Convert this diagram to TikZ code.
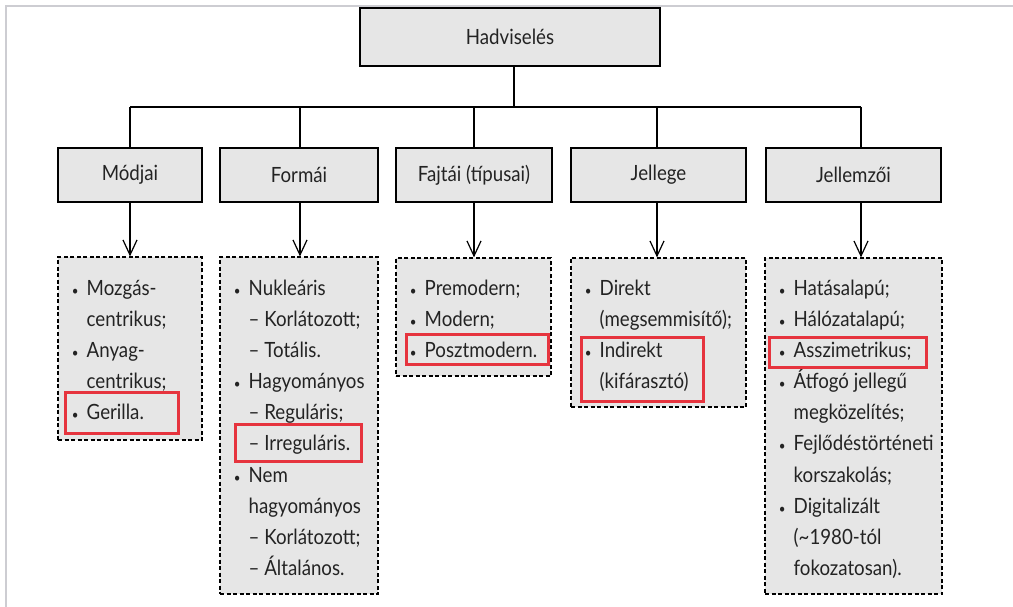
\documentclass[tikz,border=0pt]{standalone}
\usepackage{fontspec}
\setmainfont{Lato}[FakeStretch=0.89]
\usetikzlibrary{arrows.meta}
\definecolor{boxfill}{RGB}{230,230,230}
\definecolor{txt}{RGB}{35,35,35}
\definecolor{hlred}{RGB}{230,52,62}
\definecolor{framegray}{RGB}{205,205,210}
\newcommand\bu{\makebox[0pt][c]{\fontsize{13}{13}\selectfont\textbullet}\hspace*{11.5pt}}
\newcommand\ind{\hspace*{11.5pt}}
\begin{document}
\begin{tikzpicture}[x=1pt,y=-1pt,
  hdr/.style={draw=black, line width=1.3pt, fill=boxfill, inner sep=0pt, text=txt, font=\fontsize{21}{25}\selectfont},
  lst/.style={draw=black, line width=1.2pt, dash pattern=on 4pt off 2.5pt, fill=boxfill, inner sep=0pt},
  ltxt/.style={anchor=base west, inner sep=0pt, text=txt, font=\fontsize{21}{31.2}\selectfont},
  bus/.style={line width=1.4pt},
  arr/.style={line width=1.4pt, -{Straight Barb[length=15pt,width=14pt,line width=1.2pt]}},
  hl/.style={draw=hlred, line width=3pt, inner sep=0pt},
  frm/.style={draw=framegray, line width=2pt}]
\useasboundingbox (0,0) rectangle (1013,607);
\draw[frm] (6,607) -- (6,6) -- (1013,6);

% top levels
\node[hdr, minimum width=300, minimum height=58] (root) at (510,37) {Hadviselés};
\node[hdr, minimum width=144, minimum height=54] (mod) at (130,175) {Módjai};
\node[hdr, minimum width=158, minimum height=54] (for) at (299,175) {Formái};
\node[hdr, minimum width=156, minimum height=54] (faj) at (474,175) {Fajtái (típusai)};
\node[hdr, minimum width=175, minimum height=54] (jel) at (658.5,175) {Jellege};
\node[hdr, minimum width=175, minimum height=54] (jem) at (853.5,175) {Jellemzői};

% list boxes
\node[lst, minimum width=144, minimum height=183] (modl) at (130,348.5) {};
\node[lst, minimum width=158, minimum height=337] (forl) at (299,425.5) {};
\node[lst, minimum width=155, minimum height=118] (fajl) at (473.5,317) {};
\node[lst, minimum width=175, minimum height=149] (jell) at (658.5,332.5) {};
\node[lst, minimum width=177, minimum height=336] (jeml) at (853.5,426) {};

% bus
\coordinate (b0) at (514,107);
\coordinate (b1) at (130,107);
\coordinate (b2) at (300,107);
\coordinate (b3) at (474,107);
\coordinate (b4) at (657,107);
\coordinate (b5) at (861,107);
\draw[bus] (root.south -| b0) -- (b0);
\draw[bus] (b1) -- (b5);
\draw[bus] (b1) -- (mod.north -| b1);
\draw[bus] (b2) -- (for.north -| b2);
\draw[bus] (b3) -- (faj.north -| b3);
\draw[bus] (b4) -- (jel.north -| b4);
\draw[bus] (b5) -- (jem.north -| b5);

% arrows
\draw[arr] (mod.south -| b1) -- (modl.north -| b1);
\draw[arr] (for.south -| b2) -- (forl.north -| b2);
\draw[arr] (faj.south -| b3) -- (fajl.north -| b3);
\draw[arr] (jel.south -| b4) -- (jell.north -| b4);
\draw[arr] (jem.south -| b5) -- (jeml.north -| b5);

% texts
\node[ltxt] (t1) at (75,295) {\begin{tabular}[t]{@{}l@{}}\bu Mozgás-\\ \ind centrikus;\\ \bu Anyag-\\ \ind centrikus;\\ \bu Gerilla.\end{tabular}};
\node[ltxt] (t2) at (237,295) {\begin{tabular}[t]{@{}l@{}}\bu Nukleáris\\ \ind – Korlátozott;\\ \ind – Totális.\\ \bu Hagyományos\\ \ind – Reguláris;\\ \ind – Irreguláris.\\ \bu Nem\\ \ind hagyományos\\ \ind – Korlátozott;\\ \ind – Általános.\end{tabular}};
\node[ltxt] (t3) at (413,295) {\begin{tabular}[t]{@{}l@{}}\bu Premodern;\\ \bu Modern;\\ \bu Posztmodern.\end{tabular}};
\node[ltxt] (t4) at (588,295) {\begin{tabular}[t]{@{}l@{}}\bu Direkt\\ \ind (megsemmisítő);\\ \bu Indirekt\\ \ind (kifárasztó)\end{tabular}};
\node[ltxt] (t5) at (782,295) {\begin{tabular}[t]{@{}l@{}}\bu Hatásalapú;\\ \bu Hálózatalapú;\\ \bu Asszimetrikus;\\ \bu Átfogó jellegű\\ \ind megközelítés;\\ \bu Fejlődéstörténeti\\ \ind korszakolás;\\ \bu Digitalizált\\ \ind (\textasciitilde1980-tól\\ \ind fokozatosan).\end{tabular}};

% highlights
\node[hl, minimum width=113, minimum height=41] (r1) at (121.5,412.5) {};
\node[hl, minimum width=126, minimum height=37] (r2) at (298,442.5) {};
\node[hl, minimum width=142, minimum height=30] (r3) at (477,349) {};
\node[hl, minimum width=122, minimum height=64] (r4) at (642,369) {};
\node[hl, minimum width=157, minimum height=30] (r5) at (847.5,352) {};
\end{tikzpicture}
\end{document}
